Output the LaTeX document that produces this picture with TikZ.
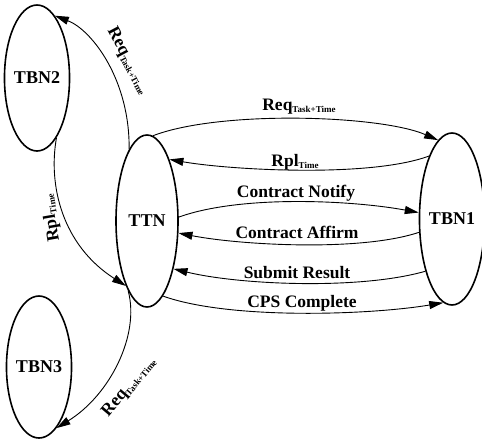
\documentclass[tikz,border=0pt]{standalone}
\usepackage{fontspec}
\setmainfont{Liberation Serif}
\usetikzlibrary{shapes.geometric,arrows.meta}
\newcommand\sbsc[1]{\raisebox{-2.5pt}{\fontsize{9}{10}\selectfont #1}}
\begin{document}
\begin{tikzpicture}[x=1pt,y=-1pt,
  state/.style={draw,ellipse,line width=1.6pt,inner sep=0pt,font=\fontsize{18}{20}\selectfont\bfseries},
  conn/.style={line width=0.9pt,-{Triangle[length=14pt,width=8pt]}},
  lab/.style={font=\fontsize{17.5}{20}\selectfont\bfseries,inner sep=0pt,anchor=base},
  rlab/.style={font=\fontsize{17.5}{20}\selectfont\bfseries,inner sep=0pt}]
\useasboundingbox (0,0) rectangle (482,439);
\node[state,minimum width=62pt,minimum height=146pt] (tbn2) at (37,78) {TBN2};
\node[state,minimum width=62pt,minimum height=172pt] (ttn) at (147,221) {TTN};
\node[state,minimum width=60pt,minimum height=172pt] (tbn1) at (452,219) {TBN1};
\node[state,minimum width=62pt,minimum height=142pt] (tbn3) at (39,367) {TBN3};
% right side connectors
\draw[conn] (ttn.86) .. controls (220,110) and (380,115) .. (tbn1.100);
\draw[conn] (tbn1.110) .. controls (370,178) and (230,170) .. (ttn.70);
\draw[conn] (ttn.7) .. controls (240,195) and (350,200) .. (tbn1.169);
\draw[conn] (tbn1.202) .. controls (360,252) and (240,245) .. (ttn.339);
\draw[conn] (tbn1.243) .. controls (360,290) and (240,285) .. (ttn.299);
\draw[conn] (ttn.282) .. controls (230,320) and (370,315) .. (tbn1.264);
% left side connectors
\draw[conn] (ttn.104) .. controls (130,80) and (92,30) .. (tbn2.74);
\draw[conn] (tbn2.288) .. controls (48,185) and (62,245) .. (ttn.252);
\draw[conn] (ttn.255) .. controls (140,335) and (110,395) .. (tbn3.286);
% labels
\node[lab] (l1) at (299,110) {Req\sbsc{Task+Time}};
\node[lab] (l2) at (295,166) {Rpl\sbsc{Time}};
\node[lab] (l3) at (296,197) {Contract Notify};
\node[lab] (l4) at (297,238) {Contract Affirm};
\node[lab] (l5) at (297,278) {Submit Result};
\node[lab] (l6) at (302,307) {CPS Complete};
\node[rlab,rotate=-62] (l7) at (128,61) {Req\sbsc{Task+Time}};
\node[rlab,rotate=100] (l8) at (51,218) {Rpl\sbsc{Time}};
\node[rlab,rotate=50] (l9) at (129,387) {Req\sbsc{Task+Time}};
\end{tikzpicture}
\end{document}
